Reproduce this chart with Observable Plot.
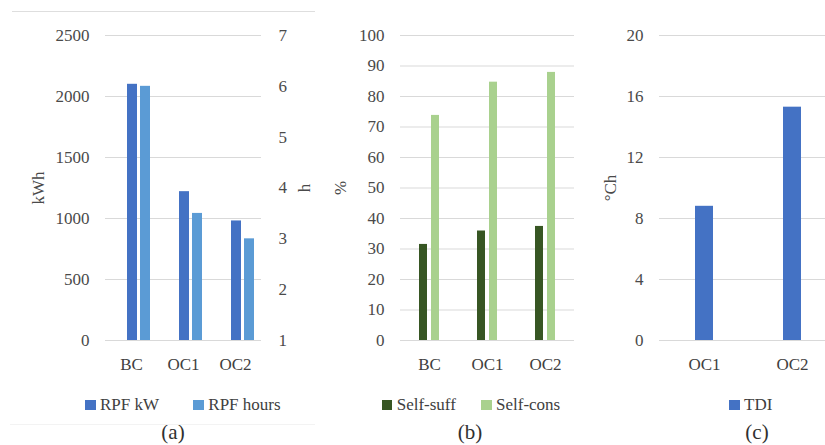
<!DOCTYPE html>
<html><head><meta charset="utf-8">
<script src="https://cdn.jsdelivr.net/npm/d3@7"></script>
<script src="https://cdn.jsdelivr.net/npm/@observablehq/plot@0.6"></script>
<style>
body{margin:0;background:#fff;}
#wrap{position:relative;width:825px;height:445px;overflow:hidden;font-family:"Liberation Serif",serif;color:#404040;background:#fff}
.panel{position:absolute;top:0}
.panel svg{background:none !important;overflow:visible;font-family:"Liberation Serif",serif !important}
.panel svg text{font-family:"Liberation Serif",serif}
.item{position:absolute;top:395px;height:20px;display:flex;align-items:center;font-size:17px;color:#404040;white-space:nowrap}
.sw{width:10.5px;height:10.5px;margin-right:4.5px;display:inline-block}
.cap{position:absolute;top:420px;width:60px;margin-left:-30px;text-align:center;font-size:21px;color:#303030}
.hline{position:absolute;height:1px}
</style></head><body><div id="wrap"></div>
<script>
// ---- data ----
const categoriesA = ["BC", "OC1", "OC2"];
const seriesA = ["RPF kW", "RPF hours"];
const rpfKW = [2100, 1220, 980];
const rpfHours = [6.0, 3.5, 3.0];
const kwhTicks = [0, 500, 1000, 1500, 2000, 2500];
const hourTicks = [1, 2, 3, 4, 5, 6, 7];
const colorsA = ["#4472C4", "#5B9BD5"];

const categoriesB = ["BC", "OC1", "OC2"];
const seriesB = ["Self-suff", "Self-cons"];
const selfSuff = [31.5, 35.9, 37.4];
const selfCons = [73.8, 84.7, 87.9];
const pctTicks = [0, 10, 20, 30, 40, 50, 60, 70, 80, 90, 100];
const colorsB = ["#375623", "#A9D18E"];

const categoriesC = ["OC1", "OC2"];
const seriesC = ["TDI"];
const tdi = [8.8, 15.3];
const chTicks = [0, 4, 8, 12, 16, 20];
const colorsC = ["#4472C4"];

const captions = ["(a)", "(b)", "(c)"];

// ---- helpers ----
const wrap = document.getElementById("wrap");
const hMin = hourTicks[0], hMax = hourTicks[hourTicks.length - 1];
const kMax = kwhTicks[kwhTicks.length - 1];
const toKwh = h => (h - hMin) / (hMax - hMin) * kMax;
const fromKwh = k => String(Math.round(k / kMax * (hMax - hMin) + hMin));
const plain = d => String(d);
const FONT = '"Liberation Serif", serif';
const baseStyle = {fontFamily: FONT, fontSize: "17px", color: "#4a4a4a", background: "none", overflow: "visible"};
const gridColor = "#d9d9d9";

function place(node, left) {
  const d = document.createElement("div");
  d.className = "panel";
  d.style.left = left + "px";
  d.appendChild(node);
  wrap.appendChild(d);
}

// ---- panel (a) ----
const dataA = categoriesA.flatMap((c, i) => [
  {cat: c, series: seriesA[0], v: rpfKW[i]},
  {cat: c, series: seriesA[1], v: toKwh(rpfHours[i])}
]);
place(Plot.plot({
  width: 320, height: 385,
  marginLeft: 104, marginRight: 58, marginTop: 35, marginBottom: 45,
  style: baseStyle,
  fx: {domain: categoriesA, padding: 0, label: null},
  x: {domain: seriesA, paddingInner: 0.263, paddingOuter: 1.109, align: 0.746, axis: null},
  y: {domain: [0, kMax], axis: null},
  color: {domain: seriesA, range: colorsA},
  marks: [
    Plot.gridY(kwhTicks, {stroke: gridColor, strokeOpacity: 1}),
    Plot.barY(dataA, {fx: "cat", x: "series", y: "v", fill: "series"}),
    Plot.axisY(kwhTicks, {anchor: "left", tickSize: 0, tickPadding: 16, tickFormat: plain, label: "kWh", labelAnchor: "center", labelArrow: "none", labelOffset: 74}),
    Plot.axisY(hourTicks.map(toKwh), {anchor: "right", tickSize: 0, tickPadding: 17, tickFormat: fromKwh, label: "h", labelAnchor: "center", labelArrow: "none", labelOffset: 48}),
    Plot.axisFx({anchor: "bottom", tickSize: 0, tickPadding: 17, label: null, fill: "#404040"})
  ]
}), 0);

// ---- panel (b) ----
const dataB = categoriesB.flatMap((c, i) => [
  {cat: c, series: seriesB[0], v: selfSuff[i]},
  {cat: c, series: seriesB[1], v: selfCons[i]}
]);
place(Plot.plot({
  width: 280, height: 385,
  marginLeft: 99, marginRight: 5, marginTop: 35, marginBottom: 45,
  style: baseStyle,
  fx: {domain: categoriesB, padding: 0, label: null},
  x: {domain: seriesB, paddingInner: 0.31, paddingOuter: 1.45, align: 0.5, axis: null},
  y: {domain: [0, 100], axis: null},
  color: {domain: seriesB, range: colorsB},
  marks: [
    Plot.gridY(pctTicks, {stroke: gridColor, strokeOpacity: 1}),
    Plot.barY(dataB, {fx: "cat", x: "series", y: "v", fill: "series"}),
    Plot.axisY(pctTicks, {anchor: "left", tickSize: 0, tickPadding: 16, tickFormat: plain, label: "%", labelAnchor: "center", labelArrow: "none", labelOffset: 67}),
    Plot.axisFx({anchor: "bottom", tickSize: 0, tickPadding: 17, label: null, fill: "#404040"})
  ]
}), 300);

// ---- panel (c) ----
const dataC = categoriesC.map((c, i) => ({cat: c, series: seriesC[0], v: tdi[i]}));
place(Plot.plot({
  width: 245, height: 385,
  marginLeft: 79, marginRight: 0, marginTop: 35, marginBottom: 45,
  style: baseStyle,
  x: {domain: categoriesC, range: [79.3, 256.3], paddingInner: 0.8, paddingOuter: 0.4, label: null},
  y: {domain: [0, 20], axis: null},
  color: {domain: seriesC, range: colorsC},
  marks: [
    Plot.gridY(chTicks, {stroke: gridColor, strokeOpacity: 1}),
    Plot.barY(dataC, {x: "cat", y: "v", fill: "series"}),
    Plot.axisY(chTicks, {anchor: "left", tickSize: 0, tickPadding: 16, tickFormat: plain, label: "°Ch", labelAnchor: "center", labelArrow: "none", labelOffset: 56}),
    Plot.axisX({anchor: "bottom", tickSize: 0, tickPadding: 17, label: null, fill: "#404040"})
  ]
}), 580);

// ---- legends ----
const legendItems = [
  {label: seriesA[0], color: colorsA[0], left: 85},
  {label: seriesA[1], color: colorsA[1], left: 193.3},
  {label: seriesB[0], color: colorsB[0], left: 381.7},
  {label: seriesB[1], color: colorsB[1], left: 481},
  {label: seriesC[0], color: colorsC[0], left: 729}
];
legendItems.forEach(it => {
  const d = document.createElement("div");
  d.className = "item";
  d.style.left = it.left + "px";
  d.innerHTML = `<span class="sw" style="background:${it.color}"></span><span>${it.label}</span>`;
  wrap.appendChild(d);
});

// ---- captions ----
[173, 470, 757].forEach((x, i) => {
  const d = document.createElement("div");
  d.className = "cap";
  d.style.left = x + "px";
  d.textContent = captions[i];
  wrap.appendChild(d);
});

// ---- decorative rules ----
[{l: 12, w: 303, t: 11, c: "#dedede"}, {l: 10, w: 305, t: 424, c: "#f3f3f3"}].forEach(r => {
  const d = document.createElement("div");
  d.className = "hline";
  Object.assign(d.style, {left: r.l + "px", width: r.w + "px", top: r.t + "px", background: r.c});
  wrap.appendChild(d);
});
</script></body></html>
